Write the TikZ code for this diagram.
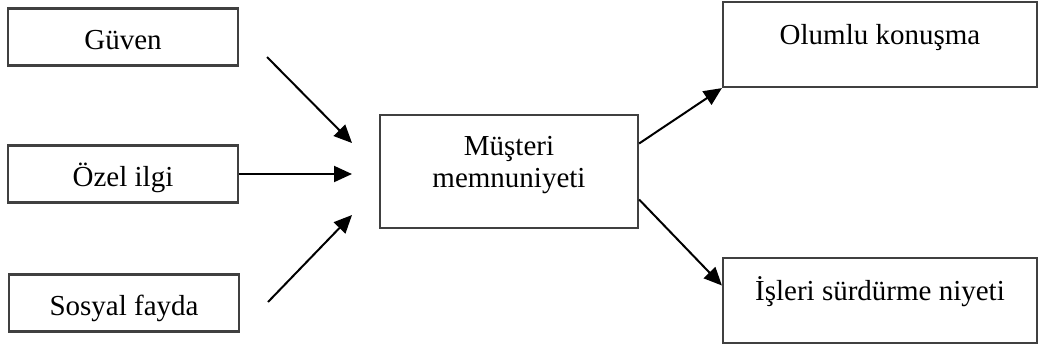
\documentclass[tikz,border=0pt]{standalone}
\usepackage{fontspec}
\setmainfont{Liberation Serif}
\usetikzlibrary{arrows.meta}
\usetikzlibrary{positioning}

\tikzset{
  box/.style={draw=black!75, line width=2.2pt, rectangle, inner sep=0pt},
  inbox/.style={box, minimum width=230pt, minimum height=57pt, text height=24pt, text depth=0pt},
  outbox/.style={box, minimum width=314pt, minimum height=85pt, text height=20pt, text depth=21pt},
  arr/.style={line width=2pt, -{Triangle[length=18pt,width=16pt]}}
}

\begin{document}
\begin{tikzpicture}[x=1pt,y=-1pt]
\fontsize{29}{32}\selectfont
\useasboundingbox (0,0) rectangle (1038,349);
% left side
\node[inbox] (guven) at (123,37) {Güven};
\node[inbox] (ozel) at (123,174) {Özel ilgi};
\node[inbox] (sosyal) at (124,303) {Sosyal fayda};
% middle
\node[box, minimum width=258pt, minimum height=113pt, align=center,
      text height=40pt, text depth=9pt] (musteri) at (509,171.5) {Müşteri\\memnuniyeti};
% right side
\node[outbox] (olumlu) at (880,44.5) {Olumlu konuşma};
\node[outbox] (isleri) at (880,300.5) {İşleri sürdürme niyeti};

\coordinate (g0) at (267,57);
\coordinate (g1) at (352,143);
\coordinate (o1) at (352,174);
\coordinate (s0) at (268,302);
\coordinate (s1) at (352,215);

\draw[arr] (g0) -- (g1);
\draw[arr] (ozel.east) -- (o1);
\draw[arr] (s0) -- (s1);
\draw[arr] ([yshift=28pt]musteri.east) -- (olumlu.south west);
\draw[arr] ([yshift=-28pt]musteri.east) -- ([yshift=15pt]isleri.west);
\end{tikzpicture}
\end{document}
